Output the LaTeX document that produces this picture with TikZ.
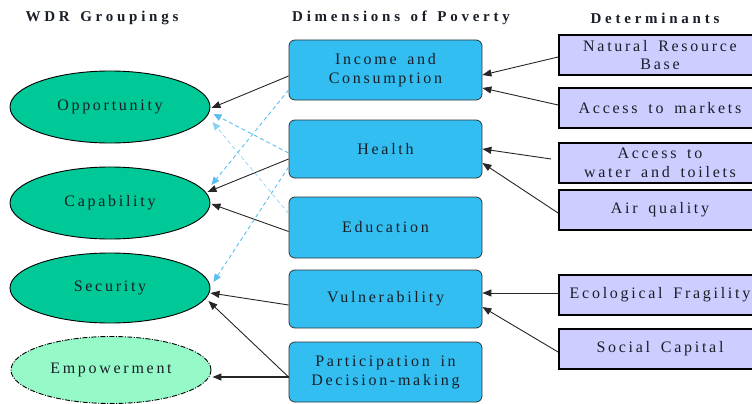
\documentclass[tikz,border=0pt]{standalone}
\usepackage{fontspec}
\setmainfont{Liberation Serif}[LetterSpace=17,WordSpace=1.6]
\newfontfamily\titlefont{Liberation Serif}[LetterSpace=25,WordSpace=1.4]
\usetikzlibrary{shapes.geometric,arrows.meta}
\definecolor{wdrgreen}{RGB}{0,200,150}
\definecolor{wdrmint}{RGB}{150,250,200}
\definecolor{povblue}{RGB}{50,190,240}
\definecolor{detlav}{RGB}{205,205,255}
\definecolor{dashblue}{RGB}{90,190,240}
\definecolor{txt}{RGB}{25,30,40}
\begin{document}
\begin{tikzpicture}[x=1pt,y=-1pt,
  grp/.style={ellipse,draw=black,line width=0.9pt,fill=wdrgreen,minimum width=200pt,minimum height=72pt,inner sep=0pt,text=txt,font=\fontsize{16}{19}\selectfont},
  pov/.style={rectangle,rounded corners=6pt,draw=black!80,line width=0.8pt,fill=povblue,minimum width=193pt,inner sep=0pt,align=center,text=txt,font=\fontsize{16}{19}\selectfont},
  det/.style={rectangle,draw=black,line width=1.8pt,fill=detlav,minimum width=202pt,minimum height=40pt,inner sep=0pt,align=center,text=txt,font=\fontsize{16}{18.5}\selectfont},
  hdr/.style={font=\titlefont\bfseries\fontsize{15}{17}\selectfont,inner sep=0pt,text=txt},
  arr/.style={-{Triangle[length=9pt,width=7pt]},line width=0.9pt,black!85},
  darr/.style={-{Triangle[length=8pt,width=7pt]},line width=0.9pt,dashblue,dash pattern=on 4pt off 3pt},
]
\useasboundingbox (0,0) rectangle (752,404);
\clip (0,0) rectangle (752,404);
% headers
\node[hdr] (h1) at (102,18) {WDR Groupings};
\node[hdr] (h2) at (401,18) {Dimensions of Poverty};
\node[hdr] (h3) at (655,18) {Determinants};
% WDR groupings
\node[grp] (opp) at (110,107) {Opportunity};
\node[grp] (cap) at (110,203) {Capability};
\node[grp,minimum height=70pt] (sec) at (110,288) {Security};
\node[grp,minimum height=67pt,fill=wdrmint,dash pattern=on 5pt off 1.5pt on 1pt off 1.5pt] (emp) at (111,370) {Empowerment};
% dimensions
\node[pov,minimum height=60pt] (inc) at (385.5,70) {Income and\\Consumption};
\node[pov,minimum height=58pt] (hea) at (385.5,149) {Health};
\node[pov,minimum height=61pt] (edu) at (385.5,227.5) {Education};
\node[pov,minimum height=58pt] (vul) at (385.5,299) {Vulnerability};
\node[pov,minimum height=60pt] (par) at (385.5,372) {Participation in\\Decision-making};
% determinants
\node[det] (nat) at (660,55) {Natural Resource\\Base};
\node[det] (mkt) at (660,108) {Access to markets};
\node[det] (wat) at (660,163) {Access to\\water and toilets};
\node[det] (air) at (660,210) {Air quality};
\node[det] (eco) at (660,295) {Ecological Fragility};
\node[det] (soc) at (660,349) {Social Capital};
% determinants -> dimensions
\draw[arr] ([yshift=-2pt]nat.west) -- ([yshift=-5pt]inc.east);
\draw[arr] ([yshift=3pt]mkt.west) -- ([yshift=-18pt]inc.east);
\draw[arr] ([xshift=-7pt,yshift=4pt]wat.west) -- ([yshift=0pt]hea.east);
\draw[arr] ([yshift=-3pt]air.west) -- ([yshift=-14pt]hea.east);
\draw[arr] ([yshift=2pt]eco.west) -- ([yshift=6pt]vul.east);
\draw[arr] ([yshift=-3pt]soc.west) -- ([yshift=-8pt]vul.east);
% dimensions -> groupings
\draw[arr] ([yshift=-6pt]inc.west) -- ([xshift=1pt,yshift=-1pt]opp.east);
\draw[arr] ([yshift=-10pt]hea.west) -- ([xshift=-3pt,yshift=11pt]cap.east);
\draw[arr] ([yshift=-4pt]edu.west) -- ([xshift=1pt,yshift=-1pt]cap.east);
\draw[arr] ([yshift=-6pt]vul.west) -- ([xshift=0pt,yshift=-5pt]sec.east);
\draw[arr] ([yshift=-5pt]par.west) -- ([xshift=-2pt,yshift=-13pt]sec.east);
\draw[arr,line width=1.3pt] ([yshift=-5pt]par.west) -- ([xshift=1pt,yshift=-7pt]emp.east);
% dashed links
\draw[darr] ([yshift=-20pt]inc.west) -- ([xshift=1pt,yshift=18pt]cap.east);
\draw[darr] ([yshift=-4pt]hea.west) -- ([xshift=3pt,yshift=-7pt]opp.east);
\draw[darr,dashblue!70,line width=0.7pt] ([yshift=14pt]edu.west) -- ([xshift=2pt,yshift=-15pt]opp.east);
\draw[darr] ([yshift=-18pt]hea.west) -- ([xshift=3pt,yshift=6pt]sec.east);
\end{tikzpicture}
\end{document}
